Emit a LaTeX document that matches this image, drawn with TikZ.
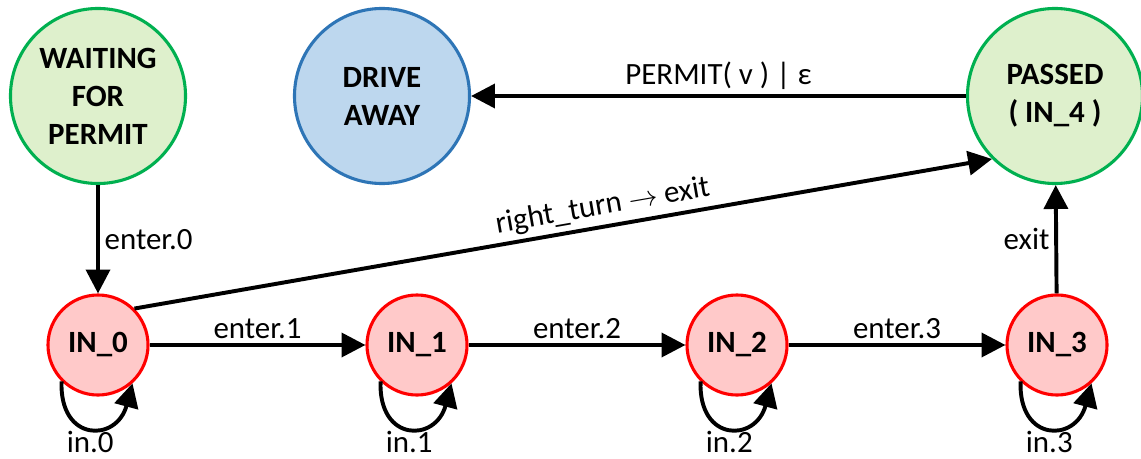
\documentclass[tikz,border=0pt]{standalone}
\usepackage{fontspec}
\setmainfont{Carlito}
\usetikzlibrary{arrows.meta}
\definecolor{greenfill}{HTML}{DEF0CC}
\definecolor{greenline}{HTML}{00B050}
\definecolor{bluefill}{HTML}{BDD7EE}
\definecolor{blueline}{HTML}{2E75B6}
\definecolor{redfill}{HTML}{FFC9C9}
\definecolor{redline}{HTML}{FF0000}
\begin{document}
\begin{tikzpicture}[x=0.025cm,y=-0.025cm,
  state/.style={circle,line width=2.2pt,inner sep=0pt,align=center,
    font=\fontsize{22}{27}\selectfont\bfseries},
  bigstate/.style={state,minimum size=4.375cm},
  smallstate/.style={state,draw=redline,fill=redfill,minimum size=2.5cm},
  arr/.style={line width=2.8pt,-{Triangle[length=17pt,width=17pt]}},
  lbl/.style={font=\fontsize{22}{26}\selectfont},
  looplbl/.style={lbl,anchor=base,inner sep=0pt,pos=0.5,yshift=-0.62cm},
  selfloop/.style={arr,out=-92,in=-105,looseness=2.2}]
  \useasboundingbox (0,0) rectangle (1141,459);
  % top row
  \node[bigstate,draw=greenline,fill=greenfill] (wait) at (98,96) {WAITING\\FOR\\PERMIT};
  \node[bigstate,draw=blueline,fill=bluefill] (drive) at (382,96) {DRIVE\\AWAY};
  \node[bigstate,draw=greenline,fill=greenfill] (passed) at (1055,96) {PASSED\\( IN\_4 )};
  % bottom row
  \node[smallstate] (in0) at (98,345) {IN\_0};
  \node[smallstate] (in1) at (417,345) {IN\_1};
  \node[smallstate] (in2) at (737,345) {IN\_2};
  \node[smallstate] (in3) at (1057,345) {IN\_3};
  % transitions
  \draw[arr] (wait) -- node[lbl,right] {enter.0} (in0);
  \draw[arr] (in0) -- node[lbl,above] {enter.1} (in1);
  \draw[arr] (in1) -- node[lbl,above] {enter.2} (in2);
  \draw[arr] (in2) -- node[lbl,above] {enter.3} (in3);
  \draw[arr] (in3) -- node[lbl,left] {exit} (passed);
  \draw[arr] (in0.45) -- node[lbl,above,sloped,pos=0.55] {right\_turn $\rightarrow$ exit} (passed.-135);
  \draw[arr] (passed) -- node[lbl,above] {PERMIT( v ) | ε} (drive);
  % self loops
  \draw[selfloop] (in0.-135) to node[looplbl] {in.0} (in0.-48);
  \draw[selfloop] (in1.-135) to node[looplbl] {in.1} (in1.-48);
  \draw[selfloop] (in2.-135) to node[looplbl] {in.2} (in2.-48);
  \draw[selfloop] (in3.-135) to node[looplbl] {in.3} (in3.-48);
\end{tikzpicture}
\end{document}
